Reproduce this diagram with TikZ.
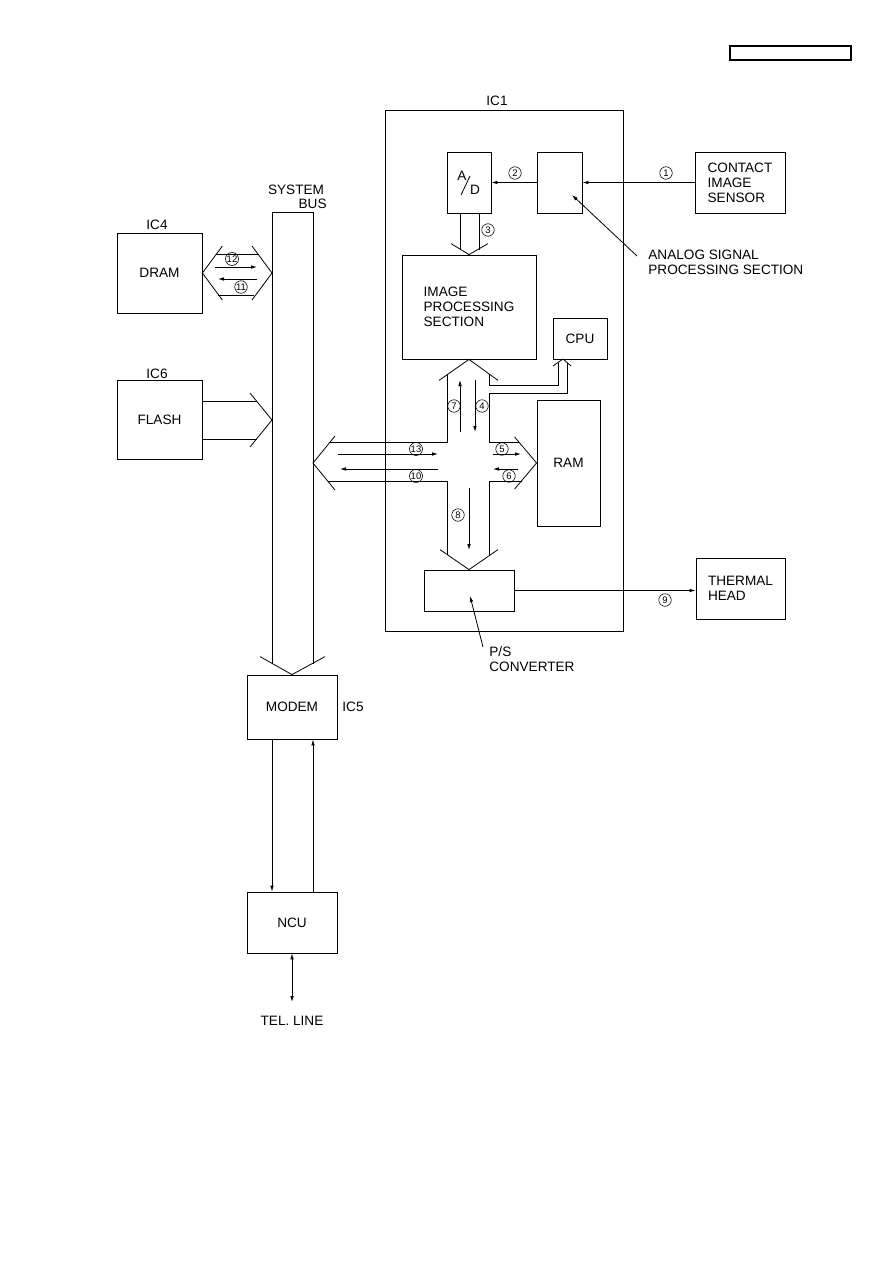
\documentclass[tikz,border=0pt]{standalone}
\usepackage{fontspec}
\setmainfont{Liberation Sans}
\usetikzlibrary{arrows.meta}

\begin{document}
\begin{tikzpicture}[x=1pt,y=-1pt,line width=0.8pt]
    \tikzset{
        block/.style={draw,inner sep=0pt,align=left,font=\fontsize{13.6}{15}\selectfont},
        lbl/.style={inner sep=0pt,align=left,font=\fontsize{13.6}{15}\selectfont},
        num/.style={circle,draw,line width=0.6pt,inner sep=0.2pt,minimum size=12.5pt,
            font=\fontsize{9.5}{9.5}\selectfont},
        sig/.style={-{Latex[length=6pt,width=3.6pt]}},
    }
    \useasboundingbox (0,0) rectangle (893,1263);

    \node[draw,line width=1.1pt,minimum width=121pt,minimum height=14pt] (tag) at (790.5,53) {};

    % IC1
    \node[block,minimum width=238pt,minimum height=521pt] (ic1) at (504,370.5) {};
    \node[lbl] (ic1lbl) at (497,101) {IC1};
    \node[block,minimum width=44pt,minimum height=61pt] (ad) at (469,182.5) {};
    \node[lbl] (adA) at (462,176) {A};
    \node[lbl] (adD) at (475,190) {D};
    \draw (461,195) -- (470,176);
    \node[block,minimum width=45pt,minimum height=61pt] (asp) at (559.5,182.5) {};
    \node[block,minimum width=90pt,minimum height=61pt] (cis) at (740,182.5) {CONTACT\\IMAGE\\SENSOR};
    \node[block,minimum width=134pt,minimum height=104pt] (ips) at (469,307) {IMAGE\\PROCESSING\\SECTION};
    \node[block,minimum width=54pt,minimum height=41pt] (cpu) at (580,338.5) {CPU};
    \node[block,minimum width=63pt,minimum height=126pt] (ram) at (568.5,463) {RAM};
    \node[block,minimum width=90pt,minimum height=41pt] (ps) at (469,590.5) {};
    \node[block,minimum width=89pt,minimum height=61pt] (th) at (740.5,588.5) {THERMAL\\HEAD};

    % outside IC1
    \node[block,minimum width=85pt,minimum height=80pt] (dram) at (159.5,273) {DRAM};
    \node[lbl] (ic4) at (157,225) {IC4};
    \node[block,minimum width=85pt,minimum height=79pt] (flash) at (159.5,420) {FLASH};
    \node[lbl] (ic6) at (157,374) {IC6};
    \node[block,minimum width=90pt,minimum height=64pt] (modem) at (292,707) {MODEM};
    \node[lbl] (ic5) at (353,707) {IC5};
    \node[block,minimum width=90pt,minimum height=61pt] (ncu) at (292,922.5) {NCU};
    \node[lbl] (sys) at (296,190) {SYSTEM};
    \node[lbl,anchor=east] (buslbl) at (327,204) {BUS};

    \coordinate (busdram) at (272,273);
    \coordinate (busflash) at (272,420);
    \coordinate (busic1) at (313,463);
    \coordinate (cputip) at (563,359);
    \coordinate (tel) at (292,1002);
    \node[lbl] (telline) at (292,1021) {TEL. LINE};

    % system bus
    \draw (272,663.7) -- (272,212) -- (313,212) -- (313,663.5);
    \draw ([shift={(-32,-18)}]modem.north) -- (modem.north) -- ([shift={(33,-18)}]modem.north);

    % DRAM <-> bus
    \draw ([shift={(20,-27)}]dram.east) -- (dram.east) -- ([shift={(20,27)}]dram.east);
    \draw ([shift={(-20,-27)}]busdram) -- (busdram) -- ([shift={(-20,27)}]busdram);
    \draw (216,254) -- (258,254) (218.3,295) -- (253.7,295);

    % FLASH -> bus
    \draw (flash.east |- 0,401) -- (256.5,401) (flash.east |- 0,439) -- (256.5,439);
    \draw ([shift={(-22,-27)}]busflash) -- (busflash) -- ([shift={(-22,27)}]busflash);

    % A/D -> image processing
    \draw (460,213) -- (460,249.5) (479,213) -- (479,249.5);
    \draw ([shift={(-18,-11)}]ips.north) -- (ips.north) -- ([shift={(19,-11)}]ips.north);

    % cross
    \draw ([shift={(-30,21)}]ips.south) -- (ips.south) -- ([shift={(29,21)}]ips.south);
    \draw ([shift={(-10,7)}]cputip) -- (cputip) -- ([shift={(8,7)}]cputip);
    \draw ([shift={(22,-27)}]busic1) -- (busic1) -- ([shift={(22,27)}]busic1);
    \draw ([shift={(-22,-26)}]ram.west) -- (ram.west) -- ([shift={(-22,26)}]ram.west);
    \draw ([shift={(-29,-20)}]ps.north) -- (ps.north) -- ([shift={(29,-20)}]ps.north);
    \draw (447,374.4) -- (447,442) -- (330,442);
    \draw (327.7,481) -- (447,481) -- (447,554.8);
    \draw (489,373.5) -- (489,385) -- (558,385) -- (558,362.5);
    \draw (567,362.5) -- (567,393) -- (489,393) -- (489,442) -- (519.2,442);
    \draw (521.8,481) -- (489,481) -- (489,556.2);

    % signal flow
    \draw[sig] (cis.west) -- (asp.east);
    \draw[sig] (asp.west) -- (ad.east);
    \draw[sig] (460,432) -- (460,380);
    \draw[sig] (475,380) -- (475,432);
    \draw[sig] (338,454) -- (438,454);
    \draw[sig] (438,469) -- (340,469);
    \draw[sig] (493,454) -- (521,454);
    \draw[sig] (518,469) -- (493,469);
    \draw[sig] (469,488) -- (469,550);
    \draw[sig] (215,267) -- (257,267);
    \draw[sig] (257,279) -- (218,279);
    \draw[sig] (ps.east) -- (th.west |- ps.east);
    \draw[sig] ([xshift=-20pt]modem.south) -- ([xshift=-20pt]ncu.north);
    \draw[sig] ([xshift=21pt]ncu.north) -- ([xshift=21pt]modem.south);
    \draw[{Latex[length=6pt,width=3.6pt]}-{Latex[length=6pt,width=3.6pt]}] (ncu.south) -- (tel);

    % pointers
    \node[lbl,anchor=west] (asplbl) at (648,262) {ANALOG SIGNAL\\PROCESSING SECTION};
    \coordinate (aspfoot) at (637,256);
    \draw[sig] (aspfoot) -- (572,195);
    \node[lbl,anchor=west] (pslbl) at (489,659) {P/S\\CONVERTER};
    \coordinate (psfoot) at (483,647);
    \draw[sig] (psfoot) -- (470,596);

    \foreach \n/\x/\y in {1/666/173,2/515/173,3/488/230,4/482/406,5/502/449,
        6/509/476,7/454/406,8/458/515,9/665/600,10/416/476,11/241/287,
        12/232/259,13/416/449}
        \node[num] (n\n) at (\x,\y) {\n};
\end{tikzpicture}
\end{document}
